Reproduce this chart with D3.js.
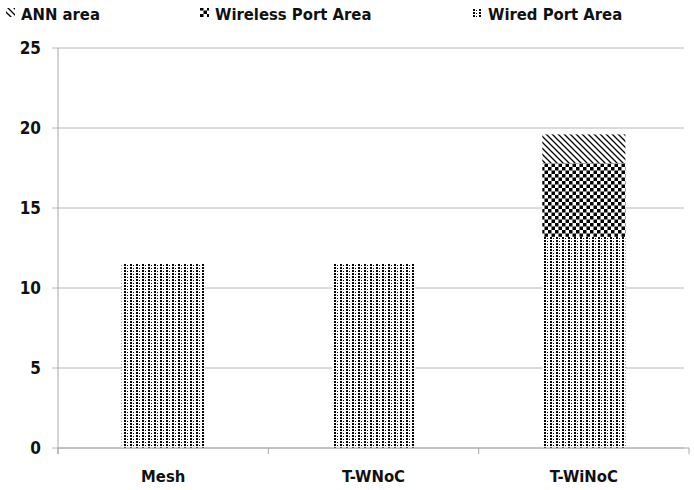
<!DOCTYPE html>
<html>
<head>
<meta charset="utf-8">
<script src="https://cdn.jsdelivr.net/npm/d3@7"></script>
<style>
  body { margin: 0; background: #fff; }
  text { font-family: "DejaVu Sans Condensed", "Liberation Sans Narrow", sans-serif; font-weight: bold; fill: #111; }
</style>
</head>
<body>
<script>
// chart data
var categories = ["Mesh", "T-WNoC", "T-WiNoC"];
var wiredArea = [11.5, 11.5, 13.2];
var wirelessArea = [0, 0, 4.6];
var annArea = [0, 0, 1.8];
var yTicks = [0, 5, 10, 15, 20, 25];
var seriesNames = ["ANN area", "Wireless Port Area", "Wired Port Area"];

var W = 694, H = 490;
var margin = {top: 48, right: 5, bottom: 42, left: 58};
var width = W - margin.left - margin.right,
    height = H - margin.top - margin.bottom;

var svg = d3.select("body").append("svg")
  .attr("width", W)
  .attr("height", H);

// fill patterns
var defs = svg.append("defs");

var pWired = defs.append("pattern")
  .attr("id", "pat-wired")
  .attr("patternUnits", "userSpaceOnUse")
  .attr("width", 6).attr("height", 3);
pWired.append("rect").attr("width", 6).attr("height", 3).attr("fill", "#fff");
pWired.append("rect").attr("x", 0).attr("y", 0).attr("width", 2).attr("height", 2).attr("fill", "#000");
pWired.append("rect").attr("x", 3).attr("y", 1).attr("width", 1).attr("height", 1).attr("fill", "#000");

var pWireless = defs.append("pattern")
  .attr("id", "pat-wireless")
  .attr("patternUnits", "userSpaceOnUse")
  .attr("width", 7).attr("height", 7);
pWireless.append("rect").attr("width", 7).attr("height", 7).attr("fill", "#fff");
pWireless.append("rect").attr("x", 0).attr("y", 0).attr("width", 3.5).attr("height", 3.5).attr("fill", "#000");
pWireless.append("rect").attr("x", 3.5).attr("y", 3.5).attr("width", 3.5).attr("height", 3.5).attr("fill", "#000");

var pAnn = defs.append("pattern")
  .attr("id", "pat-ann")
  .attr("patternUnits", "userSpaceOnUse")
  .attr("width", 6).attr("height", 6);
pAnn.append("rect").attr("width", 6).attr("height", 6).attr("fill", "#fff");
pAnn.append("path")
  .attr("d", "M-1,-1 L7,7 M-4,2 L2,8 M4,-2 L8,2")
  .attr("stroke", "#000")
  .attr("stroke-width", 1.3);

var patternFor = {
  "ANN area": "url(#pat-ann)",
  "Wireless Port Area": "url(#pat-wireless)",
  "Wired Port Area": "url(#pat-wired)"
};

var g = svg.append("g")
  .attr("transform", "translate(" + margin.left + "," + margin.top + ")");

var x = d3.scaleBand().domain(categories).range([0, width]).padding(0);
var y = d3.scaleLinear().domain([0, 25]).range([height, 0]);

// gridlines
g.append("g")
  .selectAll("line")
  .data(yTicks)
  .enter()
  .append("line")
  .attr("x1", -6)
  .attr("x2", width - 5)
  .attr("y1", function(d){ return y(d); })
  .attr("y2", function(d){ return y(d); })
  .attr("stroke", "#b8b8b8")
  .attr("stroke-width", 1);

// y labels
g.append("g")
  .selectAll("text")
  .data(yTicks)
  .enter()
  .append("text")
  .attr("x", -17)
  .attr("y", function(d){ return y(d) + 6; })
  .attr("text-anchor", "end")
  .style("font-size", "17px")
  .text(function(d){ return d; });

// y axis line
g.append("line")
  .attr("x1", 0).attr("x2", 0)
  .attr("y1", 0).attr("y2", height + 6)
  .attr("stroke", "#a8a8a8");

// stacked bars
var rows = categories.map(function(c, i){
  return {cat: c, "Wired Port Area": wiredArea[i], "Wireless Port Area": wirelessArea[i], "ANN area": annArea[i]};
});
var stack = d3.stack().keys(["Wired Port Area", "Wireless Port Area", "ANN area"]);
var layers = stack(rows);

var barW = x.bandwidth() * 0.395;

layers.forEach(function(layer){
  g.append("g")
    .selectAll("rect")
    .data(layer.filter(function(d){ return d[1] - d[0] > 0; }))
    .enter()
    .append("rect")
    .attr("x", function(d){ return x(d.data.cat) + (x.bandwidth() - barW) / 2; })
    .attr("y", function(d){ return y(d[1]); })
    .attr("width", barW)
    .attr("height", function(d){ return y(d[0]) - y(d[1]); })
    .attr("fill", patternFor[layer.key]);
});

// x axis line and ticks
g.append("line")
  .attr("x1", 0).attr("x2", width)
  .attr("y1", height).attr("y2", height)
  .attr("stroke", "#a8a8a8");

g.append("g")
  .selectAll("line")
  .data(categories.concat(["end"]))
  .enter()
  .append("line")
  .attr("x1", function(d, i){ return i * x.step(); })
  .attr("x2", function(d, i){ return i * x.step(); })
  .attr("y1", height)
  .attr("y2", height + 6)
  .attr("stroke", "#a8a8a8");

g.append("g")
  .selectAll("text")
  .data(categories)
  .enter()
  .append("text")
  .attr("x", function(d){ return x(d) + x.bandwidth() / 2; })
  .attr("y", height + 34)
  .attr("text-anchor", "middle")
  .style("font-size", "16.5px")
  .text(function(d){ return d; });

// legend
var legendX = [6, 200, 473];
var legend = svg.append("g")
  .selectAll("g")
  .data(seriesNames)
  .enter()
  .append("g")
  .attr("transform", function(d, i){ return "translate(" + legendX[i] + ",0)"; });

legend.append("rect")
  .attr("x", 0)
  .attr("y", 8)
  .attr("width", 9)
  .attr("height", 9)
  .attr("fill", function(d){ return patternFor[d]; });

legend.append("text")
  .attr("x", 15)
  .attr("y", 20)
  .style("font-size", "16.5px")
  .text(function(d){ return d; });
</script>
</body>
</html>
